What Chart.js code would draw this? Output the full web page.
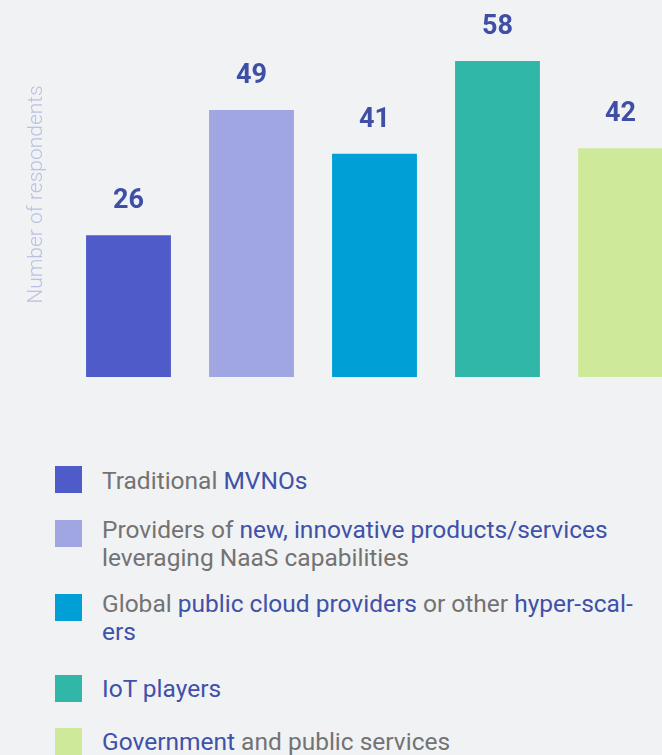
<!DOCTYPE html>
<html>
<head>
<meta charset="utf-8">
<script src="https://cdn.jsdelivr.net/npm/chart.js@4"></script>
<style>
  html, body { margin:0; padding:0; background:#f1f2f4; width:662px; height:755px; overflow:hidden; font-family: Roboto, "Noto Sans", sans-serif; }
  #wrap { position:absolute; left:0; top:0; width:700px; height:390px; }
  .sq { position:absolute; left:55px; width:27px; height:27px; }
  .tx { position:absolute; left:102px; width:560px; font-size:24.5px; line-height:28px; color:#737373; white-space:nowrap; }
  .tx .hl { color:#3f51a8; }
</style>
</head>
<body>
<div id="wrap"><canvas id="c"></canvas></div>
<div id="legend"></div>
<script>
const categories = ["Traditional MVNOs", "Providers of new, innovative products/services leveraging NaaS capabilities", "Global public cloud providers or other hyper-scalers", "IoT players", "Government and public services"];
const values = [26, 49, 41, 58, 42];
const colors = ["#4f5bc8", "#9fa6e2", "#00a0d6", "#31b7a7", "#cfe99b"];
const axisTitle = "Number of respondents";
// legend label segments: [text, highlighted]; "\n" = line break
const legendSegments = [
  [["Traditional ", false], ["MVNOs", true]],
  [["Providers of ", false], ["new, innovative products/services", true], ["\nleveraging NaaS capabilities", false]],
  [["Global ", false], ["public cloud providers", true], [" or other ", false], ["hyper-scal-\ners", true]],
  [["IoT players", true]],
  [["Government", true], [" and public services", false]]
];
const legendSquareTops = [466, 520, 594, 675, 728];
const legendTextTops = [467, 516, 590, 675, 728];

const legend = document.getElementById('legend');
legendSegments.forEach((segs, i) => {
  const sq = document.createElement('div');
  sq.className = 'sq';
  sq.style.top = legendSquareTops[i] + 'px';
  sq.style.background = colors[i];
  legend.appendChild(sq);
  const tx = document.createElement('div');
  tx.className = 'tx';
  tx.style.top = legendTextTops[i] + 'px';
  segs.forEach(([t, hl]) => {
    const parts = t.split('\n');
    parts.forEach((p, k) => {
      if (k > 0) tx.appendChild(document.createElement('br'));
      if (p.length) {
        const s = document.createElement('span');
        if (hl) s.className = 'hl';
        s.textContent = p;
        tx.appendChild(s);
      }
    });
  });
  legend.appendChild(tx);
});

const valueLabels = {
  id: 'valueLabels',
  afterDatasetsDraw(chart) {
    const ctx = chart.ctx;
    const meta = chart.getDatasetMeta(0);
    ctx.save();
    ctx.font = 'bold 27px Roboto';
    ctx.fillStyle = '#3f4fa6';
    ctx.textAlign = 'center';
    ctx.textBaseline = 'alphabetic';
    meta.data.forEach((bar, i) => {
      ctx.fillText(String(values[i]), bar.x, bar.y - 27);
    });
    ctx.restore();
  }
};

new Chart(document.getElementById('c'), {
  type: 'bar',
  data: {
    labels: categories,
    datasets: [{ data: values, backgroundColor: colors, borderWidth: 0, barPercentage: 0.69, categoryPercentage: 1.0 }]
  },
  options: {
    responsive: true,
    maintainAspectRatio: false,
    animation: false,
    layout: { padding: { left: 23, right: 18, top: 12, bottom: 13 } },
    plugins: { legend: { display: false }, tooltip: { enabled: false } },
    scales: {
      x: { display: false },
      y: {
        display: true,
        min: 0, max: 67,
        ticks: { display: false },
        grid: { display: false, drawTicks: false, tickLength: 0 },
        border: { display: false },
        title: { display: true, text: axisTitle, color: '#bac1e3', font: { family: 'Roboto', size: 21, weight: '300' }, padding: { top: 1.4, bottom: 17.4 } }
      }
    }
  },
  plugins: [valueLabels]
});
</script>
</body>
</html>
